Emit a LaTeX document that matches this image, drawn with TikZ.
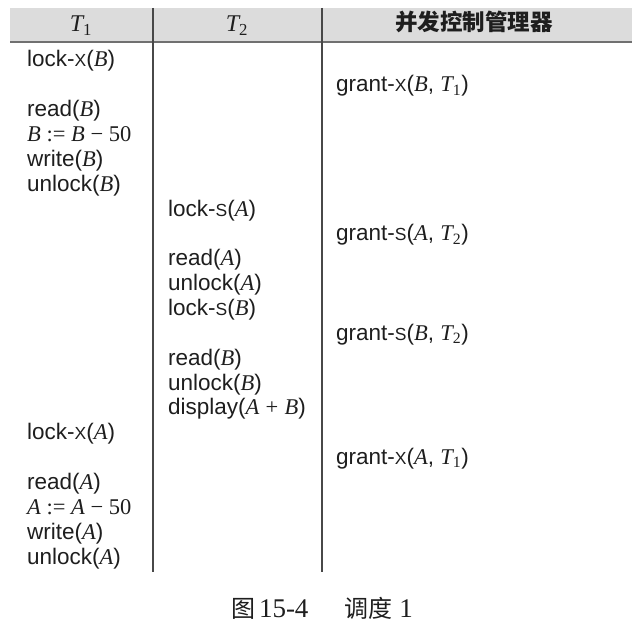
\documentclass[tikz,border=0pt]{standalone}
\usepackage{fontspec}
\setmainfont{Liberation Sans}
\newfontfamily\srf{Liberation Serif}
\newfontfamily\cjk{Noto Sans CJK SC}
\newcommand\mv[1]{{\srf\itshape #1}}
\newcommand\scx[1]{{\fontsize{17.5}{17.5}\selectfont #1}}
\definecolor{hdrgray}{HTML}{DCDCDC}
\definecolor{rulegray}{HTML}{707070}
\definecolor{linegray}{HTML}{484848}
\definecolor{inkc}{HTML}{1E1E1E}
\tikzset{
  txt/.style={anchor=base west, inner sep=0pt, text=inkc, font=\fontsize{22.5}{22.5}\selectfont},
  hdr/.style={anchor=base, inner sep=0pt, text=inkc, font=\fontsize{24}{24}\selectfont},
  colline/.style={draw=linegray, line width=1.2pt},
  hrule/.style={draw=rulegray, line width=2pt}
}
\begin{document}
\begin{tikzpicture}[x=1pt,y=-1pt]
\useasboundingbox (0,0) rectangle (637,628);
% header band
\fill[hdrgray] (10,8) rectangle (632,42);
\draw[hrule] (10,42) -- (632,42);
\draw[colline] (153,8) -- (153,572);
\draw[colline] (322,8) -- (322,572);
% header labels
\node[hdr] (h1) at (81,32) {\mv{T}\textsubscript{\srf 1}};
\node[hdr] (h2) at (237,32) {\mv{T}\textsubscript{\srf 2}};
\node[hdr] (h3) at (474,31) {\fontsize{22.5}{22.5}\selectfont\cjk\bfseries 并发控制管理器};
% T1 first block
\node[txt] (a0) at (27,67) {lock-\scx{X}(\mv{B})};
\node[txt] (a2) at (27,116.7) {read(\mv{B})};
\node[txt] (a3) at (27,141.55) {{\srf\itshape B\upshape\ := \itshape B\upshape\ − 50}};
\node[txt] (a4) at (27,166.4) {write(\mv{B})};
\node[txt] (a5) at (27,191.25) {unlock(\mv{B})};
% T2 block
\node[txt] (b6) at (168,216.1) {lock-\scx{S}(\mv{A})};
\node[txt] (b8) at (168,265.8) {read(\mv{A})};
\node[txt] (b9) at (168,290.65) {unlock(\mv{A})};
\node[txt] (b10) at (168,315.5) {lock-\scx{S}(\mv{B})};
\node[txt] (b12) at (168,365.2) {read(\mv{B})};
\node[txt] (b13) at (168,390.05) {unlock(\mv{B})};
\node[txt] (b14) at (168,414.9) {display(\mv{A} {\srf+} \mv{B})};
% T1 second block
\node[txt] (a15) at (27,439.75) {lock-\scx{X}(\mv{A})};
\node[txt] (a17) at (27,489.45) {read(\mv{A})};
\node[txt] (a18) at (27,514.3) {{\srf\itshape A\upshape\ := \itshape A\upshape\ − 50}};
\node[txt] (a19) at (27,539.15) {write(\mv{A})};
\node[txt] (a20) at (27,564) {unlock(\mv{A})};
% manager
\node[txt] (c1) at (336,92) {grant-\scx{X}(\mv{B},\ \mv{T}\textsubscript{\srf 1})};
\node[txt] (c7) at (336,240.95) {grant-\scx{S}(\mv{A},\ \mv{T}\textsubscript{\srf 2})};
\node[txt] (c11) at (336,340.35) {grant-\scx{S}(\mv{B},\ \mv{T}\textsubscript{\srf 2})};
\node[txt] (c16) at (336,464) {grant-\scx{X}(\mv{A},\ \mv{T}\textsubscript{\srf 1})};
% caption
\node[hdr] (cap) at (322,617) {{\cjk 图}\hspace{4pt}{\fontsize{27}{27}\srf 15-4}\hspace{36pt}{\cjk 调度}\hspace{7pt}{\fontsize{27}{27}\srf 1}};
\end{tikzpicture}
\end{document}
